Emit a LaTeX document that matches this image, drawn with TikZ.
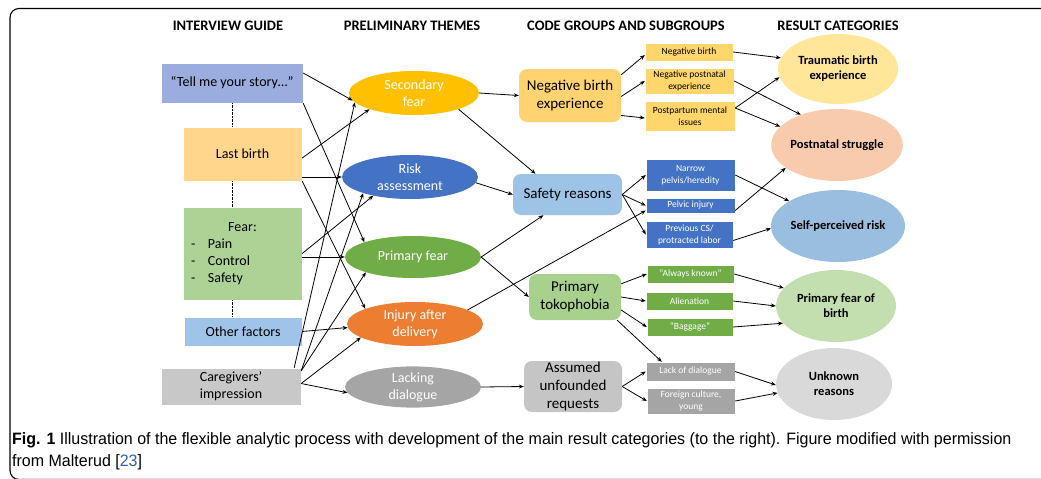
\documentclass[tikz,border=0pt]{standalone}
\usepackage{fontspec}
\setmainfont{Carlito}
\newfontfamily\capfont[FakeStretch=0.97]{Liberation Sans}
\usetikzlibrary{shapes.geometric,arrows.meta}

\definecolor{tellcol}{HTML}{9AADDE}
\definecolor{lastcol}{HTML}{FFD68C}
\definecolor{fearcol}{HTML}{ADD296}
\definecolor{othercol}{HTML}{A0C3EA}
\definecolor{carecol}{HTML}{C8C8C8}
\definecolor{seccol}{HTML}{FFC000}
\definecolor{riskcol}{HTML}{4472C4}
\definecolor{pfcol}{HTML}{70AD47}
\definecolor{injcol}{HTML}{ED7D31}
\definecolor{lackcol}{HTML}{A5A5A5}
\definecolor{nbecol}{HTML}{FFD470}
\definecolor{safcol}{HTML}{9DC3E6}
\definecolor{tokcol}{HTML}{A9D18E}
\definecolor{asscol}{HTML}{C5C5C5}
\definecolor{subor}{HTML}{FFD66B}
\definecolor{traucol}{HTML}{FFE699}
\definecolor{postcol}{HTML}{F8CBAD}
\definecolor{selfcol}{HTML}{9ABEE0}
\definecolor{pfbcol}{HTML}{C3DFAF}
\definecolor{unkcol}{HTML}{D9D9D9}
\definecolor{capblue}{HTML}{2F5FB3}

\begin{document}
\begin{tikzpicture}[
        x=1pt, y=-1pt,
        >={Stealth[length=5pt,width=4pt]},
        header/.style={font=\fontsize{14.5}{17}\selectfont\bfseries},
        guide/.style={rectangle, draw=white, fill=#1, inner sep=0, align=center, font=\fontsize{14}{17}\selectfont},
        theme/.style={ellipse, fill=#1, inner sep=0, align=center, text=white, font=\fontsize{14}{17}\selectfont},
        group/.style={rectangle, rounded corners=8pt, fill=#1, inner sep=0, align=center, font=\fontsize{15}{18}\selectfont},
        subgroup/.style={rectangle, draw=white, fill=#1, inner sep=0, align=center, font=\fontsize{9.5}{12}\selectfont},
        result/.style={ellipse, fill=#1, inner sep=0, align=center, font=\fontsize{12.5}{15}\selectfont\bfseries},
        link/.style={->, line width=0.8pt}
    ]
    \useasboundingbox (0,0) rectangle (1041,479);
    \draw[line width=1.1pt, rounded corners=9pt] (1060,8.5) -- (10,8.5) -- (10,479.5) -- (1060,479.5);

        % Headers
        \node[header] (hguide) at (228,26) {INTERVIEW GUIDE};
        \node[header] (htheme) at (412,26) {PRELIMINARY THEMES};
        \node[header] (hgroup) at (626,26) {CODE GROUPS AND SUBGROUPS};
        \node[header] (hresult) at (838,26) {RESULT CATEGORIES};

        % Interview guide
        \node[guide=tellcol, minimum width=142pt, minimum height=40pt] (tell) at (232,83) {``Tell me your story\dots''};
        \node[guide=lastcol, minimum width=119pt, minimum height=54pt] (last) at (242.5,154) {Last birth};
        \node[guide=fearcol, minimum width=119pt, minimum height=93pt] (fear) at (242.5,253.5) {%
            \begin{tabular}{@{}p{10pt}@{\hspace{7pt}}p{86pt}@{}}
            \multicolumn{2}{c}{Fear:}\\
            - & Pain\\
            - & Control\\
            - & Safety
            \end{tabular}};
        \node[guide=othercol, minimum width=118pt, minimum height=29pt] (other) at (243,331.5) {Other factors};
        \node[guide=carecol, minimum width=140pt, minimum height=37pt] (care) at (231,386.5) {Caregivers’\\impression};

        \draw[densely dotted] (tell.south) -- (tell.south |- last.north);
        \draw[densely dotted] (tell.south |- last.south) -- (tell.south |- fear.north);
        \draw[densely dotted] (tell.south |- fear.south) -- (tell.south |- other.north);

        % Preliminary themes
        \node[theme=seccol, minimum width=130pt, minimum height=44pt] (sec) at (414,93) {Secondary\\fear};
        \node[theme=riskcol, minimum width=136pt, minimum height=44pt] (risk) at (410,177) {Risk\\assessment};
        \node[theme=pfcol, minimum width=136pt, minimum height=42pt] (pfear) at (413,257) {Primary fear};
        \node[theme=injcol, minimum width=136pt, minimum height=44pt] (injury) at (415,324) {Injury after\\delivery};
        \node[theme=lackcol, minimum width=136pt, minimum height=40pt] (lacking) at (413,387) {Lacking\\dialogue};

        % Code groups
        \node[group=nbecol, minimum width=102pt, minimum height=53pt] (nbe) at (570,95.5) {Negative birth\\experience};
        \node[group=safcol, minimum width=109pt, minimum height=41pt] (safety) at (567.5,194.5) {Safety reasons};
        \node[group=tokcol, minimum width=92pt, minimum height=46pt] (tok) at (575,297) {Primary\\tokophobia};
        \node[group=asscol, minimum width=98pt, minimum height=51pt] (assumed) at (573,386.5) {Assumed\\unfounded\\requests};

        % Subgroups
        \node[subgroup=subor, minimum width=88pt, minimum height=18pt] (nb) at (689,52) {Negative birth};
        \node[subgroup=subor, minimum width=89pt, minimum height=26pt] (np) at (689.5,81) {Negative postnatal\\experience};
        \node[subgroup=subor, minimum width=90pt, minimum height=30pt] (pm) at (690,116) {Postpartum mental\\issues};
        \node[subgroup=riskcol, text=white, minimum width=89pt, minimum height=32pt] (narrow) at (690.5,175) {Narrow\\pelvis/heredity};
        \node[subgroup=riskcol, text=white, minimum width=89pt, minimum height=15pt] (pelvic) at (690.5,205.5) {Pelvic injury};
        \node[subgroup=riskcol, text=white, minimum width=87pt, minimum height=27pt] (prevcs) at (689.5,234.5) {Previous CS/\\protracted labor};
        \node[subgroup=pfcol, text=white, minimum width=87pt, minimum height=18pt] (always) at (690.5,274) {“Always known”};
        \node[subgroup=pfcol, text=white, minimum width=87pt, minimum height=18pt] (alien) at (689.5,301) {Alienation};
        \node[subgroup=pfcol, text=white, minimum width=86pt, minimum height=18pt] (baggage) at (690,327) {“Baggage”};
        \node[subgroup=lackcol, text=white, minimum width=89pt, minimum height=19pt] (lackd) at (690.5,371.5) {Lack of dialogue};
        \node[subgroup=lackcol, text=white, minimum width=88pt, minimum height=26pt] (foreign) at (691,401) {Foreign culture,\\young};

        % Result categories
        \node[result=traucol, minimum width=120pt, minimum height=70pt] (trauma) at (838,69) {Traumatic birth\\experience};
        \node[result=postcol, minimum width=120pt, minimum height=72pt] (postnatal) at (837,145) {Postnatal struggle};
        \node[result=selfcol, minimum width=120pt, minimum height=72pt] (selfrisk) at (838,226) {Self-perceived risk};
        \node[result=pfbcol, minimum width=120pt, minimum height=72pt] (pfb) at (836,306) {Primary fear of\\birth};
        \node[result=unkcol, minimum width=116pt, minimum height=72pt] (unknown) at (834,384) {Unknown\\reasons};

        % Guide to themes
        \draw[link] ([yshift=10pt]tell.east) -- (sec.187);
        \draw[link] (tell.south east) -- (pfear.163);
        \draw[link] ([yshift=-4pt]last.east) -- (sec.200);
        \draw[link] (last.east |- risk.west) -- (risk.west);
        \draw[link] (last.south east) -- (injury.163);
        \draw[link] (fear.east) -- (risk.207);
        \draw[link] (fear.east |- pfear.west) -- (pfear.west);
        \draw[link] (other.east) -- (injury.183);
        \draw[link] ([xshift=-7pt]care.north east) -- (sec.189);
        \draw[link] ([yshift=-3pt]care.north east) -- (risk.199);
        \draw[link] ([yshift=-3pt]care.north east) -- (pfear.198);
        \draw[link] ([yshift=3pt]care.east) -- (injury.194);
        \draw[link] ([yshift=3pt]care.east) -- (lacking.185);

        % Themes to code groups
        \draw[link] (sec.east) -- (nbe.west);
        \draw[link] (sec.340) -- ([xshift=-32pt]safety.north);
        \draw[link] (risk.355) -- (safety.west);
        \draw[link] (pfear.east) -- ([xshift=-24pt]safety.south);
        \draw[link] (pfear.east) -- (tok.west);
        \draw[link] (injury.15) -- ([yshift=-5pt]pelvic.west);
        \draw[link] (lacking.east) -- (assumed.west);

        % Code groups to subgroups
        \draw[link] ([yshift=-6pt]nbe.north east) -- ([yshift=-3pt]nb.west);
        \draw[link] ([yshift=-1pt]nbe.east) -- (np.west);
        \draw[link] ([yshift=-20pt]nbe.east) -- ([yshift=-2pt]pm.west);
        \draw[link] (safety.east) -- (narrow.west);
        \draw[link] (safety.east) -- (pelvic.west);
        \draw[link] (safety.east) -- (prevcs.west);
        \draw[link] ([yshift=-10pt]tok.north east) -- (always.west);
        \draw[link] (tok.east) -- (alien.west);
        \draw[link] ([yshift=-13pt]tok.east) -- (baggage.west);
        \draw[link] ([xshift=-4pt]tok.south east) -- ([xshift=16pt]lackd.north west);
        \draw[link] (assumed.east) -- (lackd.west);
        \draw[link] (assumed.east) -- (foreign.west);

        % Subgroups to results
        \draw[link] (nb.east) -- (trauma.169);
        \draw[link] (np.east) -- (postnatal.140);
        \draw[link] ([yshift=8pt]pm.east) -- (trauma.188);
        \draw[link] ([yshift=8pt]pm.east) -- (postnatal.162);
        \draw[link] (narrow.east) -- (selfrisk.153);
        \draw[link] ([yshift=-5pt]pelvic.east) -- (postnatal.204);
        \draw[link] ([yshift=-6pt]prevcs.east) -- (selfrisk.182);
        \draw[link] (always.east) -- (pfb.161);
        \draw[link] (alien.east) -- (pfb.west);
        \draw[link] (baggage.east) -- (pfb.198);
        \draw[link] (lackd.east) -- (unknown.181);
        \draw[link] (foreign.east) -- (unknown.189);

        % Caption
        \node[anchor=north west, align=left, inner sep=0, font=\capfont\fontsize{16.5}{22}\selectfont] (caption) at (12,432)
            {\textbf{Fig. 1} Illustration of the flexible analytic process with development of the main result categories (to the right). Figure modified with permission\\from Malterud [\textcolor{capblue}{23}]};

    \end{tikzpicture}
\end{document}
